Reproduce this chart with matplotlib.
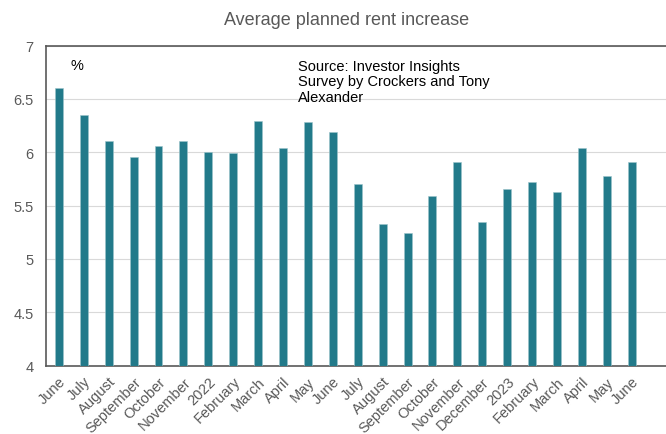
import numpy as np
import matplotlib.pyplot as plt

plt.rcParams['font.family'] = ['Liberation Sans', 'DejaVu Sans']

months = ['June', 'July', 'August', 'September', 'October', 'November', '2022',
          'February', 'March', 'April', 'May', 'June', 'July', 'August',
          'September', 'October', 'November', 'December', '2023', 'February',
          'March', 'April', 'May', 'June']
rent_increase = [6.60, 6.35, 6.11, 5.96, 6.06, 6.11, 6.00, 5.99, 6.29, 6.04,
                 6.28, 6.19, 5.70, 5.33, 5.24, 5.59, 5.91, 5.35, 5.66, 5.72,
                 5.63, 6.04, 5.78, 5.91]

grey = '#595959'

fig = plt.figure(figsize=(6.66, 4.35), dpi=100)
ax = fig.add_axes([0.069, 0.157, 0.931, 0.736])

x = np.arange(len(months))
ax.bar(x, rent_increase, width=0.32, bottom=0, color='#227a8a',
       edgecolor='#9cc4cb', linewidth=0.4, zorder=3)

ax.set_ylim(4, 7)
ax.set_yticks(np.arange(4, 7.01, 0.5))
ax.set_yticklabels(['4', '4.5', '5', '5.5', '6', '6.5', '7'])
ax.set_xlim(-0.52, 24.38)
ax.set_xticks(x)
ax.set_xticklabels(months, rotation=45, ha='right', rotation_mode='anchor')

ax.tick_params(axis='both', length=0, labelsize=10.5, colors=grey)
ax.tick_params(axis='y', pad=9)
ax.tick_params(axis='x', pad=6)

ax.grid(axis='y', color='#d9d9d9', linewidth=0.8, zorder=0)
for side in ['left', 'bottom', 'top']:
    ax.spines[side].set_color(grey)
    ax.spines[side].set_linewidth(1.2)
ax.spines['right'].set_visible(False)

ax.text(0.48, 6.82, '%', fontsize=10.5, color='black', va='center')
ax.text(9.59, 6.875, 'Source: Investor Insights\nSurvey by Crockers and Tony\nAlexander',
        fontsize=10.5, color='black', va='top', linespacing=1.12)

fig.text(0.52, 0.953, 'Average planned rent increase', fontsize=13,
         color=grey, ha='center', va='center')

fig.savefig('out.png', dpi=100)
